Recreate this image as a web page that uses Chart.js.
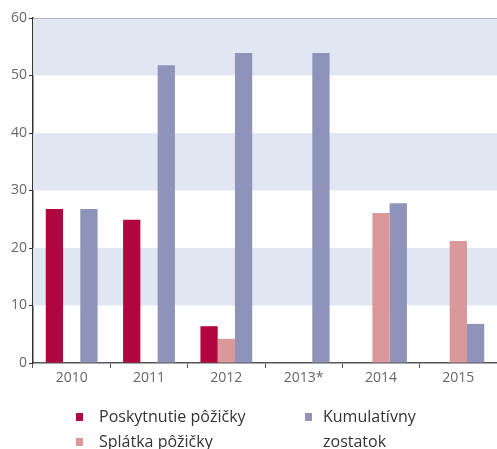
<!DOCTYPE html>
<html>
<head>
<meta charset="utf-8">
<script src="https://cdn.jsdelivr.net/npm/chart.js@4"></script>
<style>
  body { margin: 0; background: #fff; }
  #wrap { position: relative; width: 497px; height: 449px; }
  #legend { position: absolute; left: 0; top: 0; font-family: "Open Sans", sans-serif; font-size: 16px; color: #333; }
  .item { position: absolute; line-height: 25px; white-space: nowrap; }
  .box { position: absolute; width: 7px; height: 8px; }
</style>
</head>
<body>
<div id="wrap">
  <canvas id="myChart" width="497" height="449"></canvas>
  <div id="legend"></div>
</div>
<script>
// chart data
const years = ["2010", "2011", "2012", "2013*", "2014", "2015"];
const poskytnutie = [26.8, 24.9, 6.4, null, null, null];
const splatka = [null, null, 4.2, null, 26.1, 21.2];
const kumulativny = [26.8, 51.8, 53.9, 53.9, 27.8, 6.8];
const yTicks = [0, 10, 20, 30, 40, 50, 60];
const bands = [[10, 20], [30, 40], [50, 60]];

const seriesNames = ["Poskytnutie pôžičky", "Splátka pôžičky", "Kumulatívny zostatok"];
const seriesColors = ["#b0053e", "#da989b", "#8e93b9"];

// light blue stripes behind the bars + grey line on top
const bandsPlugin = {
  id: "bands",
  beforeDatasetsDraw(chart) {
    const ctx = chart.ctx;
    const area = chart.chartArea;
    const y = chart.scales.y;
    ctx.save();
    ctx.fillStyle = "#e1e7f2";
    bands.forEach(function(b) {
      const top = y.getPixelForValue(b[1]);
      const bot = y.getPixelForValue(b[0]);
      ctx.fillRect(area.left, top, area.right - area.left, bot - top);
    });
    ctx.strokeStyle = "#b5b5b5";
    ctx.lineWidth = 1;
    ctx.beginPath();
    const t = Math.round(y.getPixelForValue(60)) + 0.5;
    ctx.moveTo(area.left, t);
    ctx.lineTo(area.right, t);
    ctx.stroke();
    ctx.restore();
  }
};

new Chart("myChart", {
  type: "bar",
  data: {
    labels: years,
    datasets: [
      { label: seriesNames[0], data: poskytnutie, backgroundColor: seriesColors[0] },
      { label: seriesNames[1], data: splatka, backgroundColor: seriesColors[1] },
      { label: seriesNames[2], data: kumulativny, backgroundColor: seriesColors[2] }
    ]
  },
  options: {
    responsive: false,
    animation: false,
    layout: { padding: { top: 18, left: 0, right: 0, bottom: 0 } },
    datasets: { bar: { categoryPercentage: 0.67, barPercentage: 1 } },
    plugins: { legend: { display: false }, tooltip: { enabled: false } },
    scales: {
      x: {
        grid: { offset: true, drawOnChartArea: false, drawTicks: true, tickLength: 5, color: "#555" },
        border: { display: true, color: "#555", width: 1.5 },
        ticks: { color: "#666", font: { family: "Open Sans", size: 14 }, padding: 2 },
        afterFit: function(scale) { scale.height = 86; }
      },
      y: {
        min: 0,
        max: 60,
        afterBuildTicks: function(scale) { scale.ticks = yTicks.map(function(v) { return { value: v }; }); },
        grid: { drawOnChartArea: false, drawTicks: true, tickLength: 4, color: "#333" },
        border: { display: true, color: "#333", width: 1.5 },
        ticks: { color: "#666", font: { family: "Open Sans", size: 14 }, padding: 2 },
        afterFit: function(scale) { scale.width = 33; }
      }
    }
  },
  plugins: [bandsPlugin]
});

// html legend, two columns like the original
const legendPos = [
  { x: 76, y: 404, tx: 99 },
  { x: 76, y: 429, tx: 99 },
  { x: 305, y: 404, tx: 323, text: "Kumulatívny<br>zostatok" }
];
const legend = document.getElementById("legend");
seriesNames.forEach(function(name, i) {
  const p = legendPos[i];
  const box = document.createElement("div");
  box.className = "box";
  box.style.left = p.x + "px";
  box.style.top = (p.y + 9) + "px";
  box.style.background = seriesColors[i];
  legend.appendChild(box);
  const txt = document.createElement("div");
  txt.className = "item";
  txt.style.left = p.tx + "px";
  txt.style.top = p.y + "px";
  txt.innerHTML = p.text || name;
  legend.appendChild(txt);
});
</script>
</body>
</html>
